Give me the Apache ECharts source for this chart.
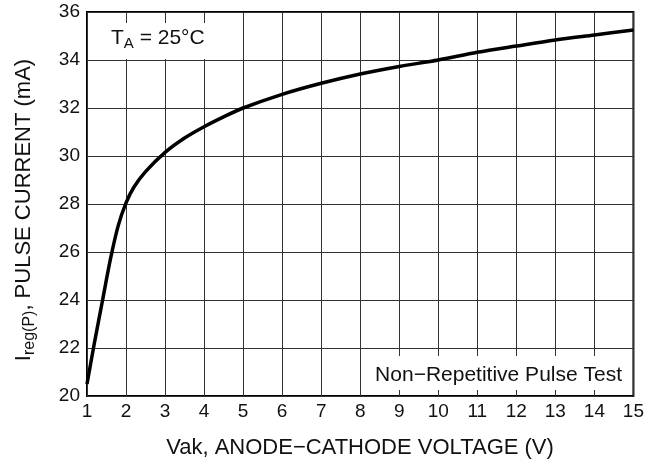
<!DOCTYPE html>
<html>
<head>
<meta charset="utf-8">
<script src="https://cdn.jsdelivr.net/npm/echarts@6/dist/echarts.min.js"></script>
<style>html,body{margin:0;padding:0;background:#fff}#c{width:647px;height:466px}</style>
</head>
<body>
<div id="c"></div>
<script>
var voltage = [1, 1.2, 1.4, 1.6, 1.8, 2.0, 2.2, 2.5, 3, 3.5, 4, 4.5, 5, 6, 7, 8, 9, 10, 11, 12, 13, 14, 15];
var current = [20.5, 22.3, 24.0, 25.7, 27.1, 28.05, 28.7, 29.35, 30.15, 30.75, 31.22, 31.63, 32.0, 32.57, 33.03, 33.42, 33.73, 34.0, 34.32, 34.58, 34.83, 35.04, 35.25];
var xTicks = [1,2,3,4,5,6,7,8,9,10,11,12,13,14,15];
var yTicks = [20,22,24,26,28,30,32,34,36];

var FONT = 'Liberation Sans';
var chart = echarts.init(document.getElementById('c'), null, {renderer:'canvas'});
var pts = voltage.map(function(v,i){return [v, current[i]];});
chart.setOption({
  animation:false,
  backgroundColor:'#fff',
  grid:{left:87,right:13,top:12,bottom:70,show:true,borderColor:'#000',borderWidth:2,backgroundColor:'transparent'},
  xAxis:{type:'value',min:xTicks[0],max:xTicks[xTicks.length-1],interval:1,
    axisLine:{show:false},axisTick:{show:false},
    axisLabel:{color:'#111',fontFamily:FONT,fontSize:19,margin:6},
    splitLine:{show:true,lineStyle:{color:'#333',width:1}}},
  yAxis:{type:'value',min:yTicks[0],max:yTicks[yTicks.length-1],interval:2,
    axisLine:{show:false},axisTick:{show:false},
    axisLabel:{color:'#111',fontFamily:FONT,fontSize:19,margin:7},
    splitLine:{show:true,lineStyle:{color:'#333',width:1}}},
  series:[{type:'line',data:pts,smooth:0.3,symbol:'none',
    lineStyle:{color:'#000',width:3.5},z:3}],
  graphic:[
    {type:'rect',shape:{x:89,y:23,width:136,height:36},style:{fill:'#fff'},z:10},
    {type:'text',left:111,top:28,z:11,style:{text:'{n|T}{s|A}{n| = 25°C}',rich:{n:{fontFamily:FONT,fontSize:21,fill:'#111'},s:{fontFamily:FONT,fontSize:15,fill:'#111',verticalAlign:'bottom',padding:[11,0,0,0]}}}},
    {type:'rect',shape:{x:363,y:356,width:269,height:34},style:{fill:'#fff'},z:10},
    {type:'text',z:11,x:622,y:375,style:{text:'Non\u2212Repetitive Pulse Test',fontFamily:FONT,fontSize:21,fill:'#111',align:'right',verticalAlign:'middle'}},
    {type:'text',z:11,x:360,y:448,style:{text:'Vak, ANODE\u2212CATHODE VOLTAGE (V)',fontFamily:FONT,fontSize:22,fill:'#111',align:'center',verticalAlign:'middle'}},
    {type:'text',z:11,x:24,y:210,rotation:Math.PI/2,style:{text:'{n|I}{s|reg(P)}{n|, PULSE CURRENT (mA)}',align:'center',verticalAlign:'middle',rich:{n:{fontFamily:FONT,fontSize:22,fill:'#111'},s:{fontFamily:FONT,fontSize:16,fill:'#111',verticalAlign:'bottom',padding:[11,0,0,0]}}}}
  ]
});
</script>
</body>
</html>
